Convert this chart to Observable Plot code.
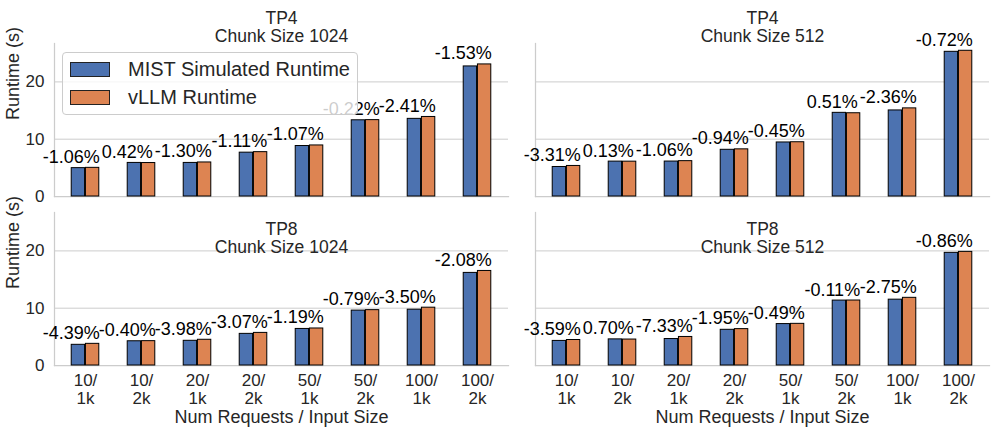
<!DOCTYPE html>
<html>
<head>
<meta charset="utf-8">
<script src="https://cdn.jsdelivr.net/npm/d3@7"></script>
<script src="https://cdn.jsdelivr.net/npm/@observablehq/plot@0.6"></script>
<style>
  html, body { margin: 0; padding: 0; background: #fff; }
  #wrap { position: relative; width: 996px; height: 433px; font-family: "Liberation Sans", Arial, sans-serif; color: #262626; }
  #legend { position: absolute; left: 62px; top: 52px; width: 294px; height: 61px; border: 1px solid #cccccc; border-radius: 4px; background: rgba(255,255,255,0.8); }
  .row { position: absolute; left: 0; height: 20px; }
  .sw { position: absolute; left: 7px; width: 38px; height: 13px; border: 1px solid #222; }
  .lbl { position: absolute; left: 65px; font-size: 20px; line-height: 20px; white-space: nowrap; }
</style>
</head>
<body>
<div id="wrap"></div>
<script>
const categories = ["10/1k", "10/2k", "20/1k", "20/2k", "50/1k", "50/2k", "100/1k", "100/2k"];
const series = ["MIST Simulated Runtime", "vLLM Runtime"];
const colors = ["#4C72B0", "#DD8452"];
const tpLevels = ["TP4", "TP8"];
const chunkLevels = ["1024", "512"];

const tp4_1024_mist = [4.95, 5.86, 5.86, 7.65, 8.81, 13.30, 13.55, 22.70];
const tp4_1024_vllm = [5.00, 5.84, 5.94, 7.74, 8.91, 13.33, 13.88, 23.05];
const tp4_1024_err  = ["-1.06%", "0.42%", "-1.30%", "-1.11%", "-1.07%", "-0.22%", "-2.41%", "-1.53%"];

const tp4_512_mist = [5.15, 6.09, 6.10, 8.15, 9.43, 14.60, 15.02, 25.25];
const tp4_512_vllm = [5.33, 6.08, 6.17, 8.23, 9.47, 14.53, 15.38, 25.43];
const tp4_512_err  = ["-3.31%", "0.13%", "-1.06%", "-0.94%", "-0.45%", "0.51%", "-2.36%", "-0.72%"];

const tp8_1024_mist = [3.61, 4.23, 4.31, 5.52, 6.38, 9.58, 9.74, 16.16];
const tp8_1024_vllm = [3.78, 4.25, 4.49, 5.69, 6.46, 9.66, 10.09, 16.50];
const tp8_1024_err  = ["-4.39%", "-0.40%", "-3.98%", "-3.07%", "-1.19%", "-0.79%", "-3.50%", "-2.08%"];

const tp8_512_mist = [4.29, 4.56, 4.62, 6.23, 7.23, 11.33, 11.49, 19.66];
const tp8_512_vllm = [4.45, 4.53, 4.98, 6.35, 7.27, 11.34, 11.81, 19.83];
const tp8_512_err  = ["-3.59%", "0.70%", "-7.33%", "-1.95%", "-0.49%", "-0.11%", "-2.75%", "-0.86%"];

const yTicks = [0, 10, 20];
const yLabel = "Runtime (s)";
const xLabel = "Num Requests / Input Size";

const panelDefs = [
  ["TP4", "1024", tp4_1024_mist, tp4_1024_vllm, tp4_1024_err],
  ["TP4", "512", tp4_512_mist, tp4_512_vllm, tp4_512_err],
  ["TP8", "1024", tp8_1024_mist, tp8_1024_vllm, tp8_1024_err],
  ["TP8", "512", tp8_512_mist, tp8_512_vllm, tp8_512_err]
];
const rows = panelDefs.flatMap(([tp, chunk, m, v, e]) =>
  categories.map((cat, i) => ({tp, chunk, cat, mist: m[i], vllm: v[i], err: e[i], top: Math.max(m[i], v[i])})));
const titles = panelDefs.map(([tp, chunk]) => ({tp, chunk, text: `${tp}\nChunk Size ${chunk}`}));
const yLabels = tpLevels.map(tp => ({tp, chunk: chunkLevels[0], text: yLabel}));
const xLabels = chunkLevels.map(chunk => ({tp: tpLevels[1], chunk, text: xLabel}));

const ymax = d3.max(rows, d => d.top) * 1.05;
const font = "'Liberation Sans', Arial, sans-serif";
const bw = 455 / categories.length; // band step in px
const barW = bw / 4;

const chart = Plot.plot({
  width: 996,
  height: 433,
  marginLeft: 53,
  marginRight: 6,
  marginTop: 43,
  marginBottom: 68,
  style: {fontFamily: font, fontSize: "16px", color: "#262626", background: "white", overflow: "visible"},
  fx: {domain: chunkLevels, paddingInner: 0.056, paddingOuter: 0, axis: null},
  fy: {domain: tpLevels, paddingInner: 0.0947, paddingOuter: 0, axis: null},
  x: {domain: categories, padding: 0},
  y: {domain: [0, ymax]},
  marks: [
    Plot.gridY({ticks: yTicks.slice(1), stroke: "#cccccc", strokeOpacity: 1, strokeWidth: 1}),
    Plot.frame({anchor: "left", stroke: "#cccccc", strokeWidth: 1.25}),
    Plot.frame({anchor: "bottom", stroke: "#cccccc", strokeWidth: 1.25}),
    Plot.axisY({ticks: yTicks, tickSize: 0, tickPadding: 10, fontSize: 17, label: null}),
    Plot.axisX({tickSize: 0, tickPadding: 8, fontSize: 17, lineHeight: 1.04, label: null,
      tickFormat: d => d.replace("/", "/\n")}),
    Plot.barY(rows, {x: "cat", y: "mist", fx: "chunk", fy: "tp", fill: colors[0], stroke: "black", strokeWidth: 1,
      insetLeft: bw / 2 - barW, insetRight: bw / 2}),
    Plot.barY(rows, {x: "cat", y: "vllm", fx: "chunk", fy: "tp", fill: colors[1], stroke: "black", strokeWidth: 1,
      insetLeft: bw / 2, insetRight: bw / 2 - barW}),
    Plot.text(rows, {x: "cat", y: "top", fx: "chunk", fy: "tp", text: "err", dx: -barW, dy: -5,
      lineAnchor: "bottom", fontSize: 18, fill: "black"}),
    Plot.text(titles.filter(d => d.tp === tpLevels[0]), {fx: "chunk", fy: "tp", text: "text", frameAnchor: "top",
      lineAnchor: "bottom", dy: -1.5, fontSize: 17.5, lineHeight: 1.02, fill: "#262626"}),
    Plot.text(titles.filter(d => d.tp === tpLevels[1]), {fx: "chunk", fy: "tp", text: "text", frameAnchor: "top",
      lineAnchor: "bottom", dy: 40.7, fontSize: 17.5, lineHeight: 1.02, fill: "#262626"}),
    Plot.text(yLabels, {fx: "chunk", fy: "tp", text: "text", frameAnchor: "left", rotate: -90, dx: -41,
      fontSize: 18, fill: "#262626"}),
    Plot.text(xLabels, {fx: "chunk", fy: "tp", text: "text", frameAnchor: "bottom", lineAnchor: "bottom", dy: 57,
      fontSize: 18, fill: "#262626"})
  ]
});

const wrap = document.getElementById("wrap");
wrap.appendChild(chart);

const legend = document.createElement("div");
legend.id = "legend";
series.forEach((name, i) => {
  const row = document.createElement("div");
  row.className = "row";
  row.style.top = (i * 28) + "px";
  const sw = document.createElement("div");
  sw.className = "sw";
  sw.style.background = colors[i];
  sw.style.top = "9px";
  const lbl = document.createElement("div");
  lbl.className = "lbl";
  lbl.style.top = "6px";
  lbl.textContent = name;
  row.appendChild(sw);
  row.appendChild(lbl);
  legend.appendChild(row);
});
wrap.appendChild(legend);
</script>
</body>
</html>
